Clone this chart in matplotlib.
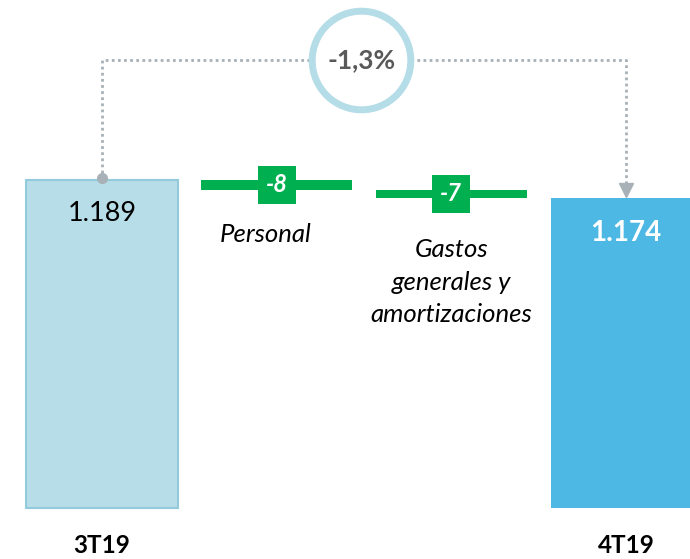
import matplotlib
matplotlib.use("Agg")
import matplotlib.pyplot as plt
import numpy as np

plt.rcParams['font.family'] = ['Lato', 'DejaVu Sans']

# datos (millones de euros)
categorias = ['3T19', 'Personal', 'Gastos\ngenerales y\namortizaciones', '4T19']
inicio = 1189
variaciones = [-8, -7]
final = 1174
etiquetas = ['1.189', '-8', '-7', '1.174']
variacion_pct = '-1,3%'

base = 916  # eje truncado

c_ini = '#b7dde8'
c_ini_borde = '#94cbdc'
c_fin = '#4db8e4'
c_verde = '#00b050'
c_gris = '#a7b1b7'
c_aro = '#b5dde8'

fig = plt.figure(figsize=(6.9, 5.59), dpi=100)
ax = fig.add_axes([0, 0, 1, 1])
ax.set_xlim(-0.584, 3.366)
ax.set_ylim(873.2, 1339)
ax.axis('off')

w = 0.865
x = np.arange(len(categorias))

# barras totales
ax.bar(x[0], inicio - base, bottom=base, width=w, color=c_ini,
       edgecolor=c_ini_borde, linewidth=1.5, zorder=2)
ax.bar(x[3], final - base, bottom=base, width=w, color=c_fin, zorder=2)

# barras de variacion
nivel = inicio
desp_x = [-8, 0]
desp_y = [-24, -29]
for i, v in enumerate(variaciones):
    xi = x[i + 1]
    ax.bar(xi, -v, bottom=nivel + v, width=w, color=c_verde, zorder=2)
    ax.plot(xi, nivel + v / 2, marker='s', markersize=28, color=c_verde,
            markeredgewidth=0, zorder=3)
    ax.text(xi, nivel + v / 2, etiquetas[i + 1], ha='center', va='center',
            color='white', fontsize=17, fontweight='bold', style='italic',
            zorder=4)
    ax.annotate(categorias[i + 1], (xi, nivel + v), xytext=(desp_x[i], desp_y[i]),
                textcoords='offset points', ha='center', va='top',
                fontsize=18.5, style='italic', color='black',
                linespacing=1.5)
    nivel += v

# valores de las barras totales
ax.annotate(etiquetas[0], (x[0], inicio), xytext=(0, -24), textcoords='offset points',
            ha='center', va='center', fontsize=19.5, color='black')
ax.annotate(etiquetas[3], (x[3], final), xytext=(0, -25), textcoords='offset points',
            ha='center', va='center', fontsize=20, color='white', fontweight='bold')

# categorias
for xi, lab in [(x[0], categorias[0]), (x[3], categorias[3])]:
    ax.annotate(lab, (xi, base), xytext=(0, -27), textcoords='offset points',
                ha='center', va='center', fontsize=17.5, fontweight='bold', color='black')

# conector punteado
alto = 1289
ax.plot([x[0], x[0], x[3], x[3]], [inicio + 1, alto, alto, final + 10],
        color=c_gris, linewidth=2, linestyle=(0, (1, 1.2)), zorder=1)
ax.plot(x[0], inicio + 1.5, marker='o', markersize=7, color=c_gris, zorder=3)
ax.plot(x[3], final + 6.5, marker='v', markersize=10, color=c_gris, zorder=3)

# circulo con variacion
xc = (x[0] + x[3]) / 2
ax.plot(xc - 0.015, alto, marker='o', markersize=71, markerfacecolor='white',
        markeredgecolor=c_aro, markeredgewidth=5, zorder=3)
ax.text(xc - 0.015, alto, variacion_pct, ha='center', va='center', fontsize=19,
        fontweight='bold', color='#595959', zorder=4)

fig.savefig('out.png', dpi=100)
